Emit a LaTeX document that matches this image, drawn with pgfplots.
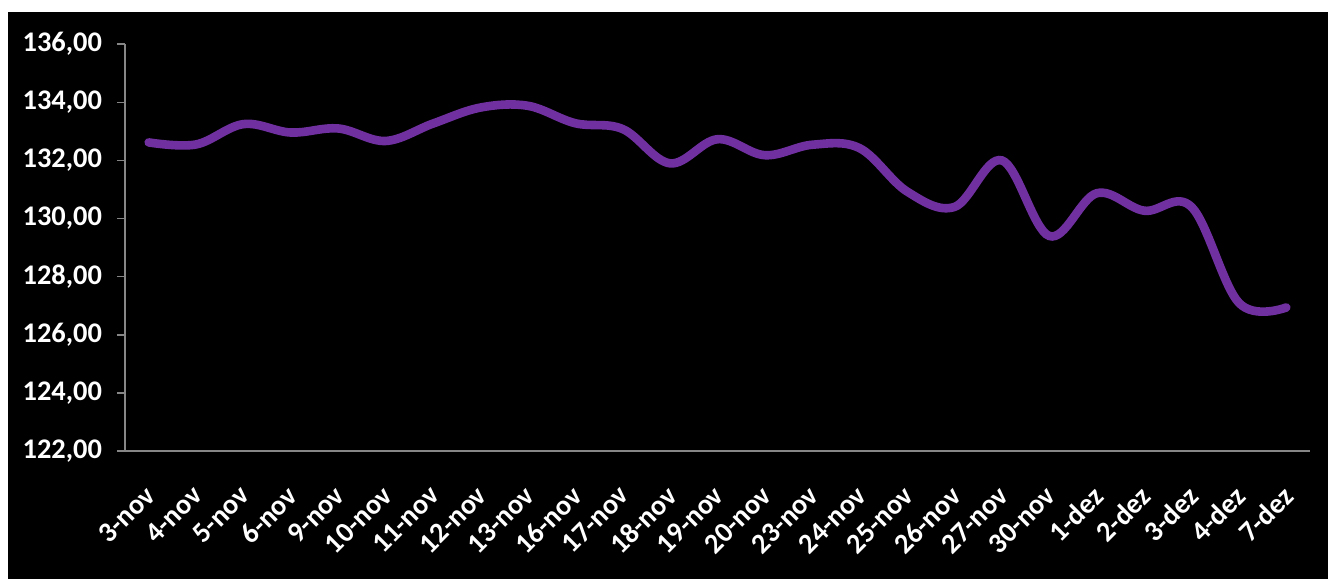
\documentclass[border=0pt]{standalone}
\usepackage{pgfplots}
\pgfplotsset{compat=1.18}
\usepackage{fontspec}
\setmainfont{Carlito}
\definecolor{lineviolet}{RGB}{112,48,160}
\definecolor{axisgray}{RGB}{134,134,134}

\begin{document}
\begin{tikzpicture}
	% fundo: faixa branca em cima e à esquerda, resto preto
	\fill[white] (0,0) rectangle (664pt,289.5pt);
	\fill[black] (4.2pt,0) rectangle (664pt,283.7pt);
	\useasboundingbox (0,0) rectangle (664pt,289.5pt);
	\begin{axis}[
		at={(62.5pt,64pt)}, anchor=south west,
		scale only axis,
		width=592.5pt, height=203.4pt,
		xmin=-0.5, xmax=24.5,
		ymin=122, ymax=136,
		ytick={122,124,...,136},
		xtick={0,...,24},
		xticklabels={3-nov,4-nov,5-nov,6-nov,9-nov,10-nov,11-nov,12-nov,13-nov,16-nov,17-nov,18-nov,19-nov,20-nov,23-nov,24-nov,25-nov,26-nov,27-nov,30-nov,1-dez,2-dez,3-dez,4-dez,7-dez},
		minor xtick={-0.5,0.5,...,24.5},
		axis x line*=bottom, axis y line*=left,
		axis line style={axisgray, line width=0.8pt, -},
		tick style={axisgray, line width=0.8pt},
		tick align=outside,
		major tick length=4pt, minor tick length=4pt,
		xtick style={draw=none},
		minor x tick style={axisgray, line width=0.8pt},
		ticklabel style={text=white},
		xticklabel style={font=\fontsize{14.2}{17}\selectfont\bfseries, xshift=-2.7pt, yshift=-11pt, rotate=45, anchor=north east, inner sep=1pt},
		yticklabel style={font=\fontsize{14.2}{17}\selectfont\bfseries, xshift=-4pt},
		/pgf/number format/.cd, fixed, fixed zerofill, precision=2, use comma, 1000 sep={}, assume math mode=true,
		/pgfplots/.cd,
		clip=false,
	]
		\addplot[lineviolet, line width=4.3pt, line cap=round, smooth, tension=0.6] coordinates {
			(0,132.62) (1,132.55) (2,133.25) (3,132.96) (4,133.10)
			(5,132.67) (6,133.27) (7,133.82) (8,133.88) (9,133.28)
			(10,133.08) (11,131.90) (12,132.73) (13,132.18) (14,132.54)
			(15,132.42) (16,130.93) (17,130.40) (18,132.00) (19,129.40)
			(20,130.87) (21,130.27) (22,130.40) (23,127.10) (24,126.94)
		};
	\end{axis}
\end{tikzpicture}
\end{document}
